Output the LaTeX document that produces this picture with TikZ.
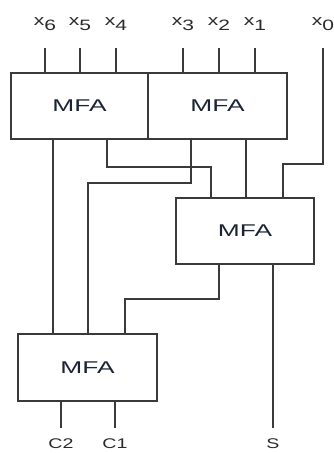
\documentclass[tikz,border=0pt]{standalone}
\usepackage{fontspec}
\setmainfont{Liberation Sans}
\definecolor{wire}{HTML}{3A3A3A}
\definecolor{txt}{HTML}{1C2433}
\definecolor{ltxt}{HTML}{2A2A2A}
\begin{document}
\begin{tikzpicture}[x=1pt,y=-1pt,
  wires/.style={draw=wire,line width=1.6pt},
  mfa/.style={draw=wire,line width=1.8pt,rectangle,inner sep=0pt,fill=white,
    font=\fontsize{17}{17}\selectfont,text=txt},
  lbl/.style={inner sep=0pt,font=\fontsize{15}{15}\selectfont,text=ltxt}]
\useasboundingbox (0,0) rectangle (333,453);
% boxes
\node[mfa,minimum width=137pt,minimum height=66pt] (b1) at (79.5,106) {\scalebox{1.55}[1]{MFA}};
\node[mfa,minimum width=139pt,minimum height=66pt] (b2) at (217.5,106) {\scalebox{1.55}[1]{MFA}};
\node[mfa,minimum width=138pt,minimum height=66pt] (b3) at (245,231) {\scalebox{1.55}[1]{MFA}};
\node[mfa,minimum width=139pt,minimum height=67pt] (b4) at (87.5,367.5) {\scalebox{1.55}[1]{MFA}};
% input labels
\newcommand{\xin}[1]{\scalebox{1.4}[1]{x\raisebox{-5pt}{#1}}}
\node[lbl] (l6) at (45,24) {\xin{6}};
\node[lbl] (l5) at (80,24) {\xin{5}};
\node[lbl] (l4) at (116,24) {\xin{4}};
\node[lbl] (l3) at (183,24) {\xin{3}};
\node[lbl] (l2) at (219,24) {\xin{2}};
\node[lbl] (l1) at (255,24) {\xin{1}};
\node[lbl] (l0) at (323,24) {\xin{0}};
\foreach \n/\x in {6/45,5/80,4/116,3/183,2/219,1/255,0/323}
  \coordinate (i\n) at (\x,48);
% output labels
\node[lbl,font=\fontsize{14}{14}\selectfont] (c2) at (61,444) {\scalebox{1.4}[1]{C2}};
\node[lbl,font=\fontsize{14}{14}\selectfont] (c1) at (115,444) {\scalebox{1.4}[1]{C1}};
\node[lbl,font=\fontsize{14}{14}\selectfont] (s) at (273,444) {\scalebox{1.4}[1]{S}};
\coordinate (oc2) at (61,428);
\coordinate (oc1) at (115,428);
\coordinate (os) at (273,428);
% inputs
\foreach \n in {6,5,4} \draw[wires] (i\n) -- (i\n |- b1.north);
\foreach \n in {3,2,1} \draw[wires] (i\n) -- (i\n |- b2.north);
\draw[wires] (i0) |- (283,164) -- (b3.north -| 283,0);
% internal connections
\draw[wires] (b1.south -| 53,0) -- (b4.north -| 53,0);
\draw[wires] (b1.south -| 107,0) |- (211,167) -- (b3.north -| 211,0);
\draw[wires] (b2.south -| 191,0) |- (88,183) -- (b4.north -| 88,0);
\draw[wires] (b2.south -| 246,0) -- (b3.north -| 246,0);
\draw[wires] (b3.south -| 219,0) |- (125,299) -- (b4.north -| 125,0);
% outputs
\draw[wires] (b3.south -| 273,0) -- (os);
\draw[wires] (b4.south -| 61,0) -- (oc2);
\draw[wires] (b4.south -| 115,0) -- (oc1);
\end{tikzpicture}
\end{document}
